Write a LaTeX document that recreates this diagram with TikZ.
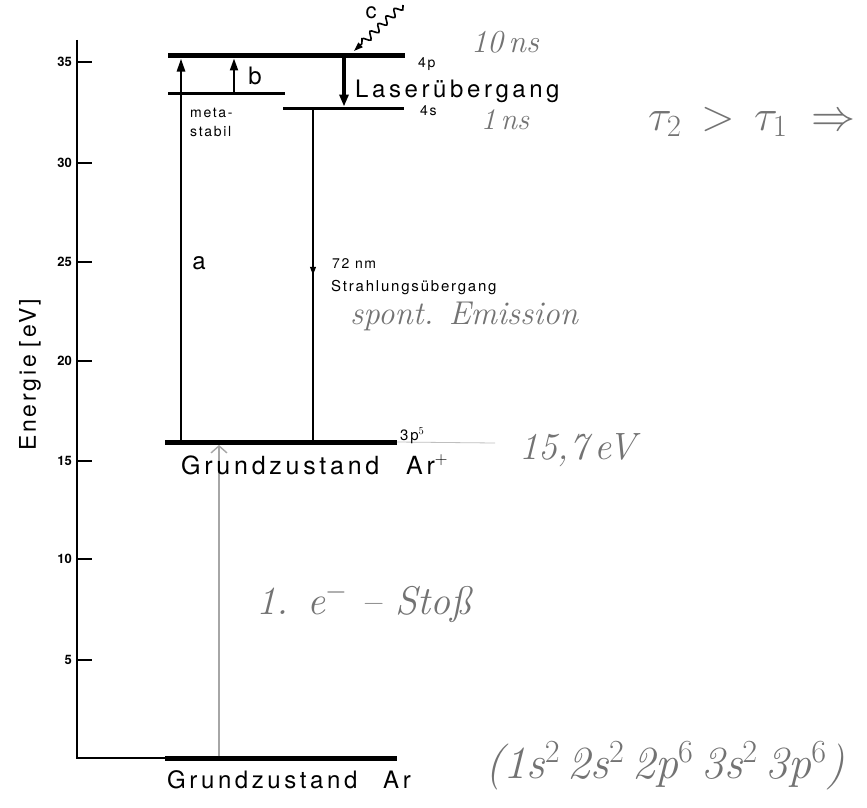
\RequirePackage{fix-cm}
\documentclass[tikz,border=0pt]{standalone}
\usepackage{fontspec}
\newfontfamily\prfont[LetterSpace=12]{TeX Gyre Heros}
\newfontfamily\prwide[LetterSpace=15]{TeX Gyre Heros}
\newfontfamily\tickfont{TeX Gyre Heros}
\usetikzlibrary{arrows.meta,decorations.pathmorphing,decorations.markings}
\definecolor{hand}{gray}{0.45}
\tikzset{
  axisline/.style={line width=2.4pt},
  thicklvl/.style={line width=5pt},
  midlvl/.style={line width=3pt},
  prtxt/.style={inner sep=0pt,font=\prfont\fontsize{#1}{#1}\selectfont},
  prbig/.style={inner sep=0pt,font=\prwide\fontsize{#1}{#1}\selectfont},
  ticklbl/.style={inner sep=0pt,anchor=east,font=\tickfont\bfseries\fontsize{13}{13}\selectfont},
  handtxt/.style={inner sep=0pt,text=hand,font=\itshape\fontsize{#1}{#1}\selectfont},
}
\begin{document}
\begin{tikzpicture}[x=1pt,y=-1pt]
\useasboundingbox (0,0) rectangle (867,808);
\fill[white] (0,0) rectangle (867,808);

% axis
\coordinate (axtop) at (77,40);
\coordinate (axorig) at (77,758);
\coordinate (axend) at (166,758);
\draw[axisline] (axtop) -- (axorig) -- (axend);
\foreach \v/\y in {35/62,30/163,25/262,20/361,15/461,10/559,5/660}{
  \coordinate (tk\v) at (77,\y);
  \coordinate (te\v) at (92,\y);
  \draw[axisline] (tk\v) -- (te\v);
  \node[ticklbl] (tl\v) at (72,\y) {\v};
}
\node[prtxt=23,rotate=90] (ylab) at (30,375) {Energie\hspace{8pt}[eV]};

% levels
\coordinate (p4L) at (168,56);  \coordinate (p4R) at (405,56);
\coordinate (msL) at (168,93);  \coordinate (msR) at (285,93);
\coordinate (s4L) at (283,108); \coordinate (s4R) at (404,108);
\coordinate (ionL) at (165,442); \coordinate (ionR) at (397,442);
\coordinate (ionX) at (495,443);
\coordinate (gL) at (165,758);  \coordinate (gR) at (397,758);
\draw[thicklvl] (p4L) -- (p4R);
\draw[midlvl] (msL) -- (msR);
\draw[midlvl] (s4L) -- (s4R);
\draw[thicklvl] (ionL) -- (ionR);
\draw[line width=0.8pt, gray!50] (ionR) -- (ionX);
\draw[thicklvl] (gL) -- (gR);

% transitions
\coordinate (aB) at (181,442); \coordinate (aT) at (181,58.5);
\draw[line width=2.6pt,-{Triangle[length=13pt,width=8pt]}] (aB) -- (aT);
\coordinate (bB) at (234,91.5); \coordinate (bT) at (234,58.5);
\draw[line width=2pt,-{Triangle[length=12pt,width=8pt]}] (bB) -- (bT);
\coordinate (lT) at (344,58); \coordinate (lB) at (344,106.5);
\draw[line width=4.5pt,-{Triangle[length=12pt,width=9pt]}] (lT) -- (lB);
\coordinate (rT) at (313,109.5); \coordinate (rB) at (313,440);
\draw[line width=1.1pt, postaction={decorate},
  decoration={markings, mark=at position 0.5 with {\arrow{Triangle[length=8pt,width=6pt]}}}]
  (rT) -- (rB);
\coordinate (eB) at (219,756); \coordinate (eT) at (219,445);
\draw[line width=1.4pt, gray!70, -{Straight Barb[length=7pt,width=16pt]}] (eB) -- (eT);
\coordinate (wS) at (403,5); \coordinate (wE) at (354,51);
\draw[line width=1.6pt, -{Triangle[length=9pt,width=6pt]},
  decorate, decoration={snake, amplitude=3.5pt, segment length=11pt, post length=9pt}]
  (wS) -- (wE);

% printed labels
\node[prtxt=24] (la) at (199,263) {a};
\node[prtxt=24] (lb) at (255,76) {b};
\node[prtxt=22,anchor=base] (lc) at (371,19) {c};
\node[prbig=24,anchor=base west] (laser) at (355,97) {Laserübergang};
\node[prtxt=14,anchor=base west] (l4p) at (418,67) {4p};
\node[prtxt=14,anchor=base west] (l4s) at (420,115) {4s};
\node[prtxt=14,anchor=base west] (lmeta) at (190,117) {meta-};
\node[prtxt=14,anchor=base west] (lstab) at (190,136) {stabil};
\node[prtxt=14,anchor=base west] (l72) at (332,268) {72 nm};
\node[prtxt=15,anchor=base west] (lstr) at (331,291) {Strahlungsübergang};
\node[prtxt=15,anchor=base west] (l3p) at (400,440) {3p$^5$};
\node[prbig=25,anchor=base west] (gz1) at (181,474) {Grundzustand};
\node[prbig=25,anchor=base west] (ar1) at (406,474) {Ar$^+$};
\node[prbig=24,anchor=base west] (gz0) at (167,788) {Grundzustand};
\node[prbig=24,anchor=base west] (ar0) at (383,788) {Ar};

% handwritten notes
\node[handtxt=32] (h10) at (505,42) {10\,ns};
\node[handtxt=30] (h1) at (505,120) {1\,ns};
\node[handtxt=44,anchor=west] (htau) at (648,122) {$\tau_2 \,>\, \tau_1 \;\Rightarrow$};
\node[handtxt=33] (hsp) at (464,316) {spont. Emission};
\node[handtxt=38] (h157) at (578,450) {15,7\,eV};
\node[handtxt=40] (hst) at (364,603) {1. e$^-$ -- Stoß};
\node[handtxt=46] (hcfg) at (665,766) {(1s$^2$\,2s$^2$\,2p$^6$\,3s$^2$\,3p$^6$)};
\end{tikzpicture}
\end{document}
